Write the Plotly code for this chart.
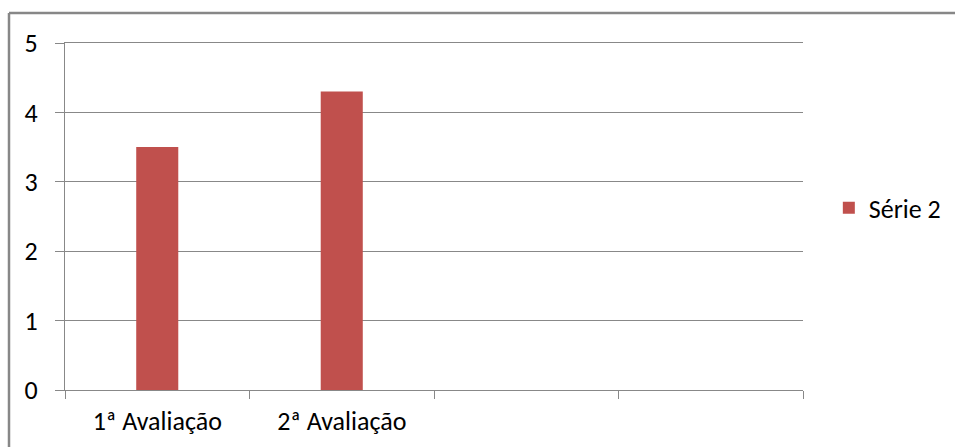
import plotly.graph_objects as go

categories = ["1ª Avaliação", "2ª Avaliação", " ", "  "]
serie2 = [3.5, 4.3, None, None]
y_ticks = [0, 1, 2, 3, 4, 5]

W, H = 955, 447
L, R, T, B = 65, 152, 43, 57
pw, ph = W - L - R, H - T - B

fig = go.Figure()
fig.add_trace(go.Bar(
    x=categories, y=serie2, name="Série 2",
    marker=dict(color="#C0504D", line=dict(width=0)),
    width=0.228,
))

font_family = "Carlito, Calibri, Lato, sans-serif"
fig.update_layout(
    width=W, height=H,
    margin=dict(l=L, r=R, t=T, b=B, pad=0, autoexpand=False),
    plot_bgcolor="white", paper_bgcolor="white",
    font=dict(family=font_family, size=26, color="#000000"),
    showlegend=True,
    legend=dict(x=1.035, xanchor="left", y=0.525, yanchor="middle",
                font=dict(size=26), itemwidth=30, bgcolor="rgba(0,0,0,0)"),
    xaxis=dict(
        type="category", categoryorder="array", categoryarray=categories,
        range=[-0.5, 3.5], showgrid=False,
        showline=True, linecolor="#888888", linewidth=1, mirror=True,
        ticks="outside", tickson="boundaries", ticklen=8, tickcolor="#888888",
        ticklabelstandoff=8,
    ),
    yaxis=dict(
        range=[0, 5], tickvals=y_ticks, showgrid=True, gridcolor="#888888", gridwidth=1,
        showline=True, linecolor="#888888", linewidth=1,
        ticks="outside", ticklen=9, tickcolor="#888888",
        ticklabelstandoff=12, zeroline=False,
    ),
    shapes=[
        dict(type="line", xref="paper", yref="paper",
             x0=(9 - L) / pw, x1=(W + 5 - L) / pw,
             y0=1 + (T - 13) / ph, y1=1 + (T - 13) / ph,
             line=dict(color="#878787", width=2.5)),
        dict(type="line", xref="paper", yref="paper",
             x0=(9 - L) / pw, x1=(9 - L) / pw,
             y0=1 + (T - 13) / ph, y1=-(B + 5) / ph,
             line=dict(color="#878787", width=2.5)),
    ],
)

fig.write_html("out.html")
